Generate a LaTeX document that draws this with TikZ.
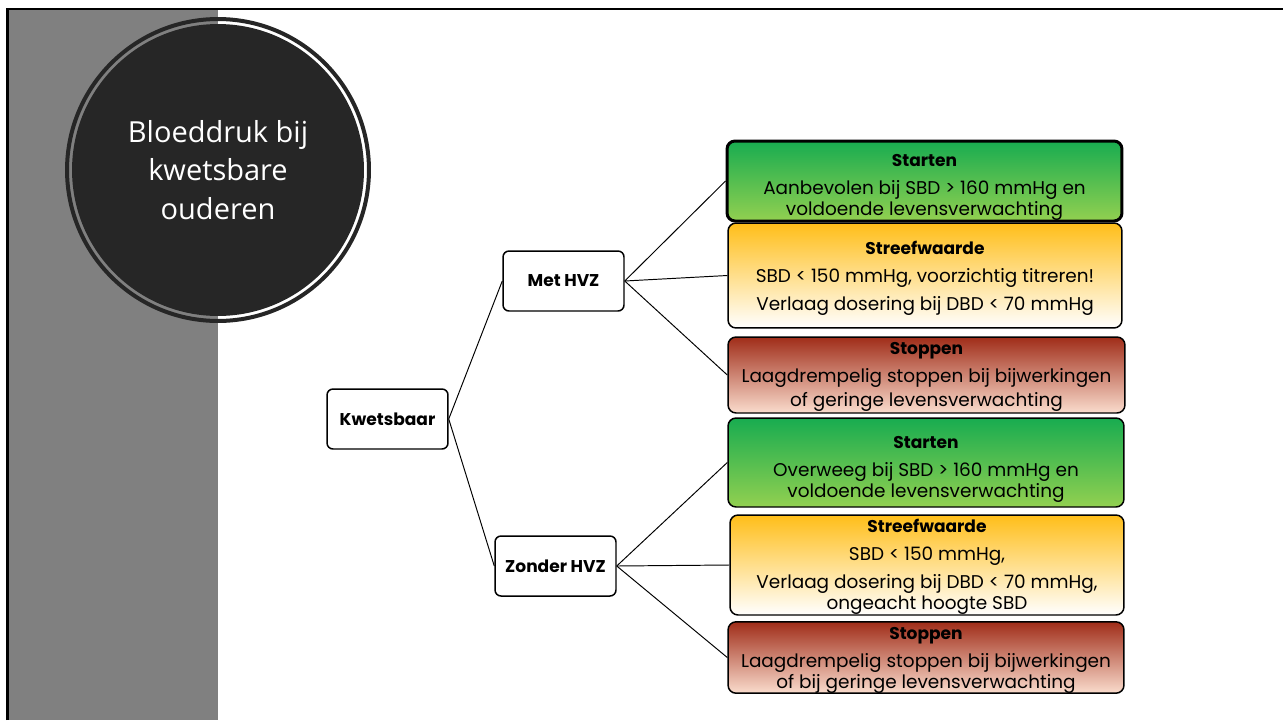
\documentclass[tikz,border=0pt]{standalone}
\usepackage{fontspec}
\setmainfont{Poppins}
\newfontfamily\titlefont{Open Sans}
\usepackage{tikz}
\usetikzlibrary{positioning}
\definecolor{hvdark}{RGB}{38,38,38}
\definecolor{hvgray}{RGB}{128,128,128}
\definecolor{startTop}{RGB}{24,172,80}
\definecolor{startBot}{RGB}{146,208,80}
\definecolor{streefTop}{RGB}{255,190,25}
\definecolor{stopTop}{RGB}{160,45,25}
\definecolor{stopBot}{RGB}{250,220,205}
% bold heading with a strut that sets its height
\newcommand{\kop}[2]{\rule{0pt}{#1}{\fontsize{9.7}{11.9}\selectfont\bfseries #2}}

\begin{document}
\begin{tikzpicture}[x=0.02cm, y=-0.02cm,
  keuze/.style={draw=black, line width=0.85pt, fill=white, rounded corners=0.12cm, minimum width=2.42cm, minimum height=1.2cm, inner sep=0pt, font=\fontsize{9.7}{11.9}\selectfont\bfseries},
  advies/.style={draw=black, line width=0.85pt, rounded corners=0.16cm, inner xsep=2pt, inner ysep=0pt, align=center, font=\fontsize{10.5}{11.9}\selectfont},
  starten/.style={advies, top color=startTop, bottom color=startBot},
  streef/.style={advies, top color=streefTop, bottom color=white},
  stoppen/.style={advies, top color=stopTop, bottom color=stopBot},
  tak/.style={draw=black, line width=0.55pt}]
  \useasboundingbox (0,0) rectangle (1283,720);

  % Side panel and frame
  \fill[hvgray] (9,10) rectangle (218,720);
  \draw[black, line width=0.05cm] (7.5,720) -- (7.5,9) -- (1283,9);

  % Title circle
  \node[circle, draw=hvdark, line width=0.08cm, minimum size=6.04cm, inner sep=0pt] (ring) at (218,170) {};
  \node[circle, fill=hvdark, minimum size=5.84cm, inner sep=0pt, align=center, text=white, font=\titlefont\fontsize{16.5}{21.8}\selectfont] (titel) at (218,170) {Bloeddruk bij\\kwetsbare\\ouderen};

  % Decision boxes
  \node[keuze] (kwets) at (387.5,419) {Kwetsbaar};
  \node[keuze] (met) at (563.5,281) {Met HVZ};
  \node[keuze] (zonder) at (555.5,566) {Zonder HVZ};

  % Met HVZ advice
  \node[starten, line width=1.7pt, minimum width=7.9cm, minimum height=1.6cm] (start1) at (924.5,181) {\kop{14.5pt}{Starten}\\[4pt]Aanbevolen bij SBD > 160 mmHg en\\voldoende levensverwachting};
  \node[streef, minimum width=7.88cm, minimum height=2.1cm] (streef1) at (925,275.5) {\kop{11pt}{Streefwaarde}\\[4pt]SBD < 150 mmHg, voorzichtig titreren!\\[4pt]Verlaag dosering bij DBD < 70 mmHg};
  \node[stoppen, minimum width=7.94cm, minimum height=1.52cm] (stop1) at (926.5,375) {\kop{9pt}{Stoppen}\\[4pt]Laagdrempelig stoppen bij bijwerkingen\\[1.5pt]of geringe levensverwachting};

  % Zonder HVZ advice
  \node[starten, minimum width=7.92cm, minimum height=1.78cm] (start2) at (926,462.5) {\kop{14.5pt}{Starten}\\[4pt]Overweeg bij SBD > 160 mmHg en\\voldoende levensverwachting};
  \node[streef, minimum width=7.88cm, minimum height=2.0cm] (streef2) at (927,565) {\kop{10pt}{Streefwaarde}\\[4pt]SBD < 150 mmHg,\\[4pt]Verlaag dosering bij DBD < 70 mmHg,\\ongeacht hoogte SBD};
  \node[stoppen, minimum width=7.92cm, minimum height=1.38cm] (stop2) at (926,657.5) {\kop{10pt}{Stoppen}\\[4pt]Laagdrempelig stoppen bij bijwerkingen\\of bij geringe levensverwachting};

  % Branches
  \draw[tak] (kwets.east) -- (met.west);
  \draw[tak] (kwets.east) -- (zonder.west);
  \draw[tak] (met.east) -- (start1.west);
  \draw[tak] (met.east) -- (streef1.west);
  \draw[tak] (met.east) -- (stop1.west);
  \draw[tak] (zonder.east) -- (start2.west);
  \draw[tak] (zonder.east) -- (streef2.west);
  \draw[tak] (zonder.east) -- (stop2.west);
\end{tikzpicture}
\end{document}
